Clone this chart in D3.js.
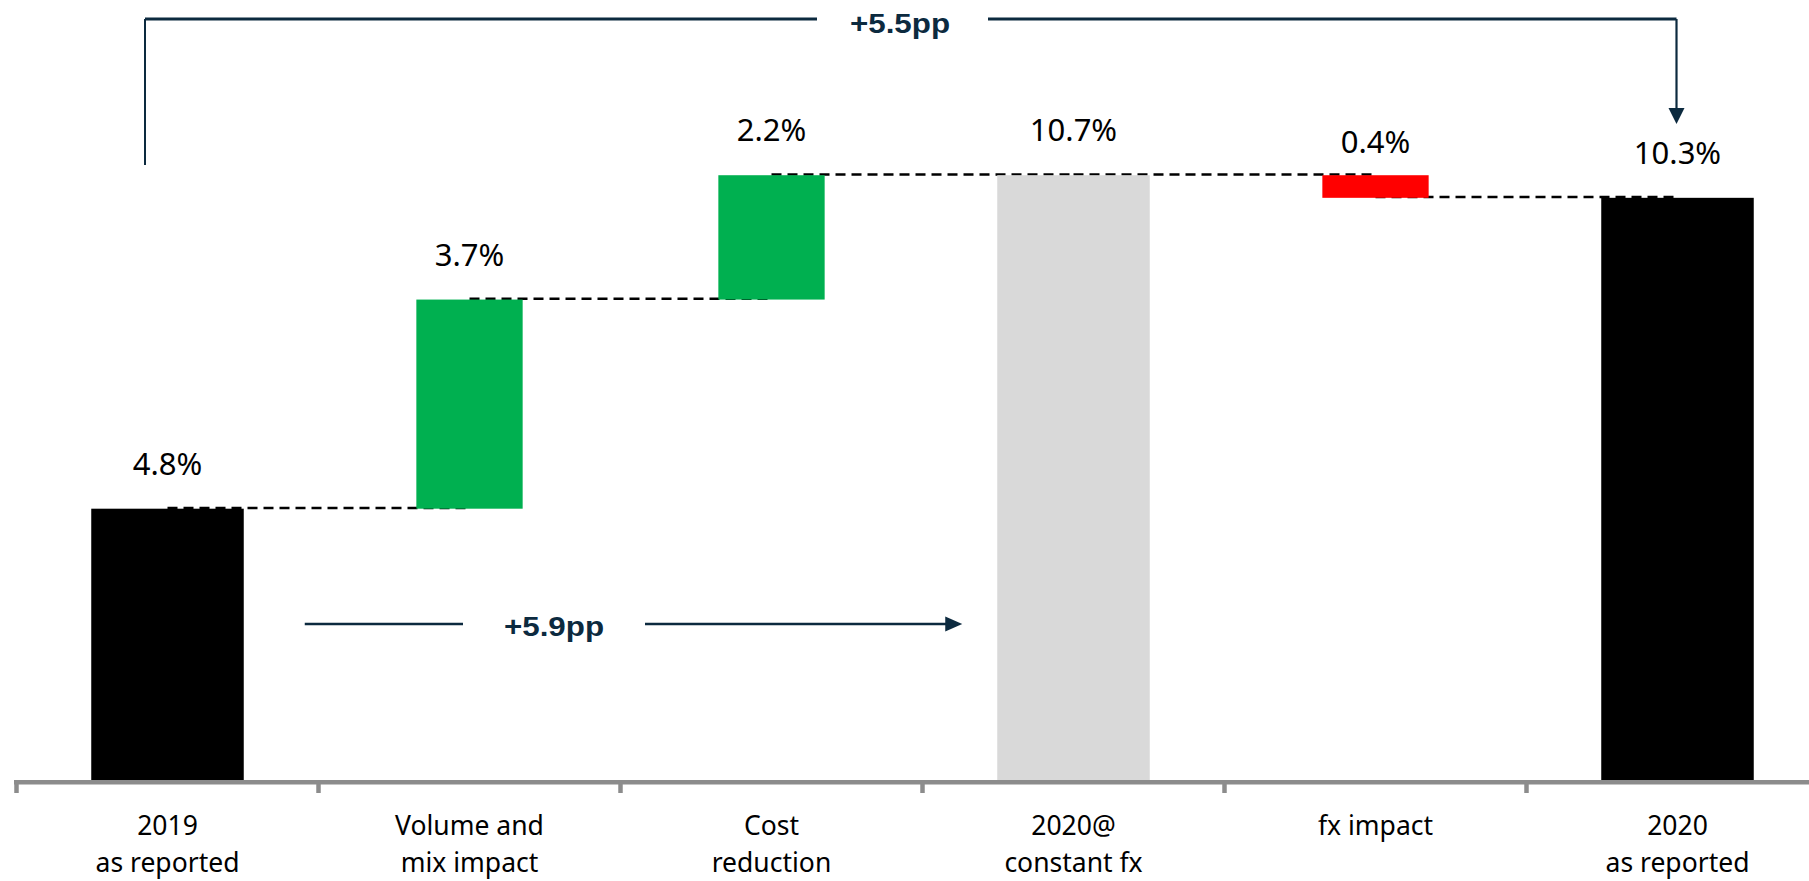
<!DOCTYPE html>
<html>
<head>
<meta charset="utf-8">
<script src="https://cdn.jsdelivr.net/npm/d3@7"></script>
<style>
  html, body { margin: 0; padding: 0; background: #ffffff; }
  svg { display: block; }
</style>
</head>
<body>
<svg id="chart" width="1809" height="881"></svg>
<script>
// Operating margin bridge, 2019 → 2020 (percentage points)
const categories = [
  ["2019", "as reported"],
  ["Volume and", "mix impact"],
  ["Cost", "reduction"],
  ["2020@", "constant fx"],
  ["fx impact"],
  ["2020", "as reported"]
];
const values = [4.8, 3.7, 2.2, 10.7, -0.4, 10.3];
const barKinds = ["reported", "increase", "increase", "constant", "decrease", "reported"];

const kindColour = {
  reported: "#000000",
  increase: "#00b050",
  decrease: "#ff0000",
  constant: "#d9d9d9"
};
const navy = "#0c2a3f";

const svg = d3.select("#chart");
const W = 1809, H = 881;
const baseY = 780;

// band per category; the last band runs past the right edge
const x = d3.scaleBand()
  .domain(d3.range(categories.length))
  .range([16.5, 16.5 + 302 * categories.length])
  .paddingInner(0).paddingOuter(0);
const y = d3.scaleLinear().domain([0, 13.8]).range([baseY, 0]);
const cx = i => x(i) + x.bandwidth() / 2;

// waterfall geometry: totals stand on zero, deltas float from the running level
let running = 0;
const bars = values.map((v, i) => {
  const kind = barKinds[i];
  let lo, hi, end;
  if (kind === "reported" || kind === "constant") {
    lo = 0; hi = v; end = v;
  } else {
    lo = Math.min(running, running + v);
    hi = Math.max(running, running + v);
    end = running + v;
  }
  running = end;
  const isTotal = kind === "reported" || kind === "constant";
  return { i, v, kind, lo, hi, end, w: x.bandwidth() * (isTotal ? 0.505 : 0.352) };
});

// connectors between consecutive bars
const links = bars.slice(0, -1).map((b, k) => ({ from: b.i, to: bars[k + 1].i, level: b.end }));
svg.append("g").selectAll("line").data(links).join("line")
  .attr("x1", d => cx(d.from))
  .attr("x2", d => cx(d.to))
  .attr("y1", d => y(d.level) - 0.8)
  .attr("y2", d => y(d.level) - 0.8)
  .attr("stroke", "#000")
  .attr("stroke-width", 2.5)
  .attr("stroke-dasharray", "10 6");

// bars
svg.append("g").selectAll("rect").data(bars).join("rect")
  .attr("x", d => cx(d.i) - d.w / 2)
  .attr("width", d => d.w)
  .attr("y", d => y(d.hi))
  .attr("height", d => y(d.lo) - y(d.hi))
  .attr("fill", d => kindColour[d.kind]);

// value labels
svg.append("g").selectAll("text").data(bars).join("text")
  .attr("x", d => cx(d.i))
  .attr("y", d => y(d.hi) - (d.kind === "decrease" ? 22 : 34))
  .attr("text-anchor", "middle")
  .attr("font-family", "'Noto Sans', 'Open Sans', sans-serif")
  .attr("font-size", 31)
  .attr("fill", "#000")
  .text(d => Math.abs(d.v).toFixed(1) + "%");

// category axis
const axis = svg.append("g");
axis.append("line")
  .attr("x1", 14).attr("x2", W)
  .attr("y1", baseY + 2.2).attr("y2", baseY + 2.2)
  .attr("stroke", "#8c8c8c").attr("stroke-width", 4.4);
axis.selectAll("line.tick").data(d3.range(categories.length)).join("line")
  .attr("class", "tick")
  .attr("x1", i => x(i)).attr("x2", i => x(i))
  .attr("y1", baseY).attr("y2", baseY + 13)
  .attr("stroke", "#8c8c8c").attr("stroke-width", 4.5);
const labels = axis.selectAll("text.cat").data(categories).join("text")
  .attr("class", "cat")
  .attr("text-anchor", "middle")
  .attr("font-family", "'Noto Sans', 'Open Sans', sans-serif")
  .attr("font-size", 26.5)
  .attr("fill", "#000");
labels.selectAll("tspan").data((d, i) => d.map((t, k) => ({ t, k, i }))).join("tspan")
  .attr("x", d => cx(d.i))
  .attr("y", d => 835 + d.k * 37)
  .text(d => d.t);

// change annotations
const ann = svg.append("g").attr("stroke", navy).attr("fill", "none");
const annText = (tx, ty, str) => svg.append("text")
  .attr("transform", `translate(${tx},${ty}) scale(1.16,1)`)
  .attr("text-anchor", "middle")
  .attr("font-family", "'Liberation Sans', Arial, sans-serif")
  .attr("font-weight", "bold")
  .attr("font-size", 27)
  .attr("fill", navy)
  .text(str);

// constant-fx change: 2019 → 2020@ constant fx
const atConst = values[3] - values[0];
const lowY = 624;
const lx0 = cx(0) + bars[0].w / 2 + 61;
const lx1 = cx(3) - bars[3].w / 2 - 35;
ann.append("line").attr("x1", lx0).attr("x2", 463).attr("y1", lowY).attr("y2", lowY).attr("stroke-width", 2.5);
ann.append("line").attr("x1", 645).attr("x2", lx1 - 16).attr("y1", lowY).attr("y2", lowY).attr("stroke-width", 2.5);
svg.append("path")
  .attr("d", `M${lx1 - 17},${lowY - 7.5}L${lx1},${lowY}L${lx1 - 17},${lowY + 7.5}Z`)
  .attr("fill", navy);
annText(554, 635.5, "+" + atConst.toFixed(1) + "pp");

// reported change: 2019 → 2020 as reported
const reported = values[5] - values[0];
const topY = 19;
const bx0 = cx(0) - 22.5;
const bx1 = cx(5) - 1;
ann.append("line").attr("x1", bx0).attr("x2", bx0).attr("y1", 165).attr("y2", topY).attr("stroke-width", 2);
ann.append("line").attr("x1", bx0).attr("x2", 817).attr("y1", topY).attr("y2", topY).attr("stroke-width", 3);
ann.append("line").attr("x1", 988).attr("x2", bx1).attr("y1", topY).attr("y2", topY).attr("stroke-width", 3);
ann.append("line").attr("x1", bx1).attr("x2", bx1).attr("y1", topY).attr("y2", 109).attr("stroke-width", 2.2);
svg.append("path")
  .attr("d", `M${bx1 - 8},108L${bx1 + 8},108L${bx1},124Z`)
  .attr("fill", navy);
annText(900, 32.5, "+" + reported.toFixed(1) + "pp");
</script>
</body>
</html>
